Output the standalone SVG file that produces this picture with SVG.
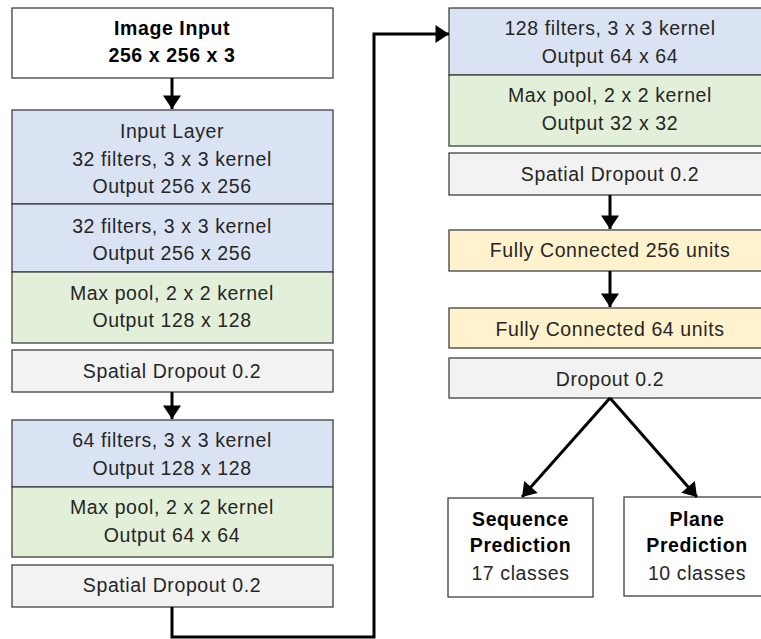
<svg xmlns="http://www.w3.org/2000/svg" width="761" height="639" viewBox="0 0 761 639">
  <defs>
    <style>
      .box { stroke: #404040; stroke-width: 1.3; }
      .plain { fill: #ffffff; }
      .conv { fill: #dae3f3; }
      .pool { fill: #e2f0d9; }
      .drop { fill: #f2f2f2; }
      .dense { fill: #fff2cc; }
      text { font-family: "Liberation Sans", Arial, sans-serif; font-size: 19.5px; letter-spacing: 0.6px; fill: #262626; text-anchor: middle; }
      text.b { font-weight: bold; fill: #000000; }
      .link { fill: none; stroke: #000000; stroke-width: 3; }
    </style>
    <marker id="head" markerUnits="userSpaceOnUse" markerWidth="18" markerHeight="18" viewBox="0 0 12 16" refX="12" refY="8" orient="auto">
      <path d="M0,0 L12,8 L0,16 Z" fill="#000000"/>
    </marker>
  </defs>

  <!-- left column -->
  <g id="image-input">
    <rect class="box plain" x="12" y="8" width="321" height="70"/>
    <text class="b" x="172" y="35">Image Input</text>
    <text class="b" x="172" y="62">256 x 256 x 3</text>
  </g>
  <g id="conv1">
    <rect class="box conv" x="12" y="110" width="321" height="94"/>
    <text x="172" y="138">Input Layer</text>
    <text x="172" y="166">32 filters, 3 x 3 kernel</text>
    <text x="172" y="193">Output 256 x 256</text>
  </g>
  <g id="conv2">
    <rect class="box conv" x="12" y="204" width="321" height="68"/>
    <text x="172" y="233">32 filters, 3 x 3 kernel</text>
    <text x="172" y="260">Output 256 x 256</text>
  </g>
  <g id="pool1">
    <rect class="box pool" x="12" y="272" width="321" height="71"/>
    <text x="172" y="300">Max pool, 2 x 2 kernel</text>
    <text x="172" y="327">Output 128 x 128</text>
  </g>
  <g id="sdrop1">
    <rect class="box drop" x="12" y="350" width="321" height="42"/>
    <text x="172" y="378">Spatial Dropout 0.2</text>
  </g>
  <g id="conv3">
    <rect class="box conv" x="12" y="420" width="321" height="67"/>
    <text x="172" y="447">64 filters, 3 x 3 kernel</text>
    <text x="172" y="475">Output 128 x 128</text>
  </g>
  <g id="pool2">
    <rect class="box pool" x="12" y="487" width="321" height="70"/>
    <text x="172" y="514">Max pool, 2 x 2 kernel</text>
    <text x="172" y="542">Output 64 x 64</text>
  </g>
  <g id="sdrop2">
    <rect class="box drop" x="12" y="565" width="321" height="42"/>
    <text x="172" y="592">Spatial Dropout 0.2</text>
  </g>

  <!-- right column -->
  <g id="conv4">
    <rect class="box conv" x="449" y="8" width="321" height="67"/>
    <text x="610" y="35">128 filters, 3 x 3 kernel</text>
    <text x="610" y="63">Output 64 x 64</text>
  </g>
  <g id="pool3">
    <rect class="box pool" x="449" y="75" width="321" height="71"/>
    <text x="610" y="102">Max pool, 2 x 2 kernel</text>
    <text x="610" y="130">Output 32 x 32</text>
  </g>
  <g id="sdrop3">
    <rect class="box drop" x="449" y="153" width="321" height="42"/>
    <text x="610" y="181">Spatial Dropout 0.2</text>
  </g>
  <g id="fc256">
    <rect class="box dense" x="449" y="230" width="321" height="41"/>
    <text x="610" y="257">Fully Connected 256 units</text>
  </g>
  <g id="fc64">
    <rect class="box dense" x="449" y="308" width="321" height="40"/>
    <text x="610" y="336">Fully Connected 64 units</text>
  </g>
  <g id="dropout">
    <rect class="box drop" x="449" y="358" width="321" height="40"/>
    <text x="610" y="386">Dropout 0.2</text>
  </g>
  <g id="sequence-out">
    <rect class="box plain" x="448" y="498" width="145" height="99"/>
    <text class="b" x="520.5" y="526">Sequence</text>
    <text class="b" x="520.5" y="552">Prediction</text>
    <text x="520.5" y="580">17 classes</text>
  </g>
  <g id="plane-out">
    <rect class="box plain" x="624" y="497" width="146" height="99"/>
    <text class="b" x="697" y="526">Plane</text>
    <text class="b" x="697" y="552">Prediction</text>
    <text x="697" y="580">10 classes</text>
  </g>

  <!-- connectors -->
  <g id="connectors">
    <path class="link" d="M172,78 V109" marker-end="url(#head)"/>
    <path class="link" d="M172,392 V419" marker-end="url(#head)"/>
    <path class="link" d="M172,607 V637 H374 V34 H449" marker-end="url(#head)"/>
    <path class="link" d="M610,195 V229" marker-end="url(#head)"/>
    <path class="link" d="M610,271 V307" marker-end="url(#head)"/>
    <path class="link" d="M610,398 L522,497" marker-end="url(#head)"/>
    <path class="link" d="M610,398 L697,497" marker-end="url(#head)"/>
  </g>
</svg>
